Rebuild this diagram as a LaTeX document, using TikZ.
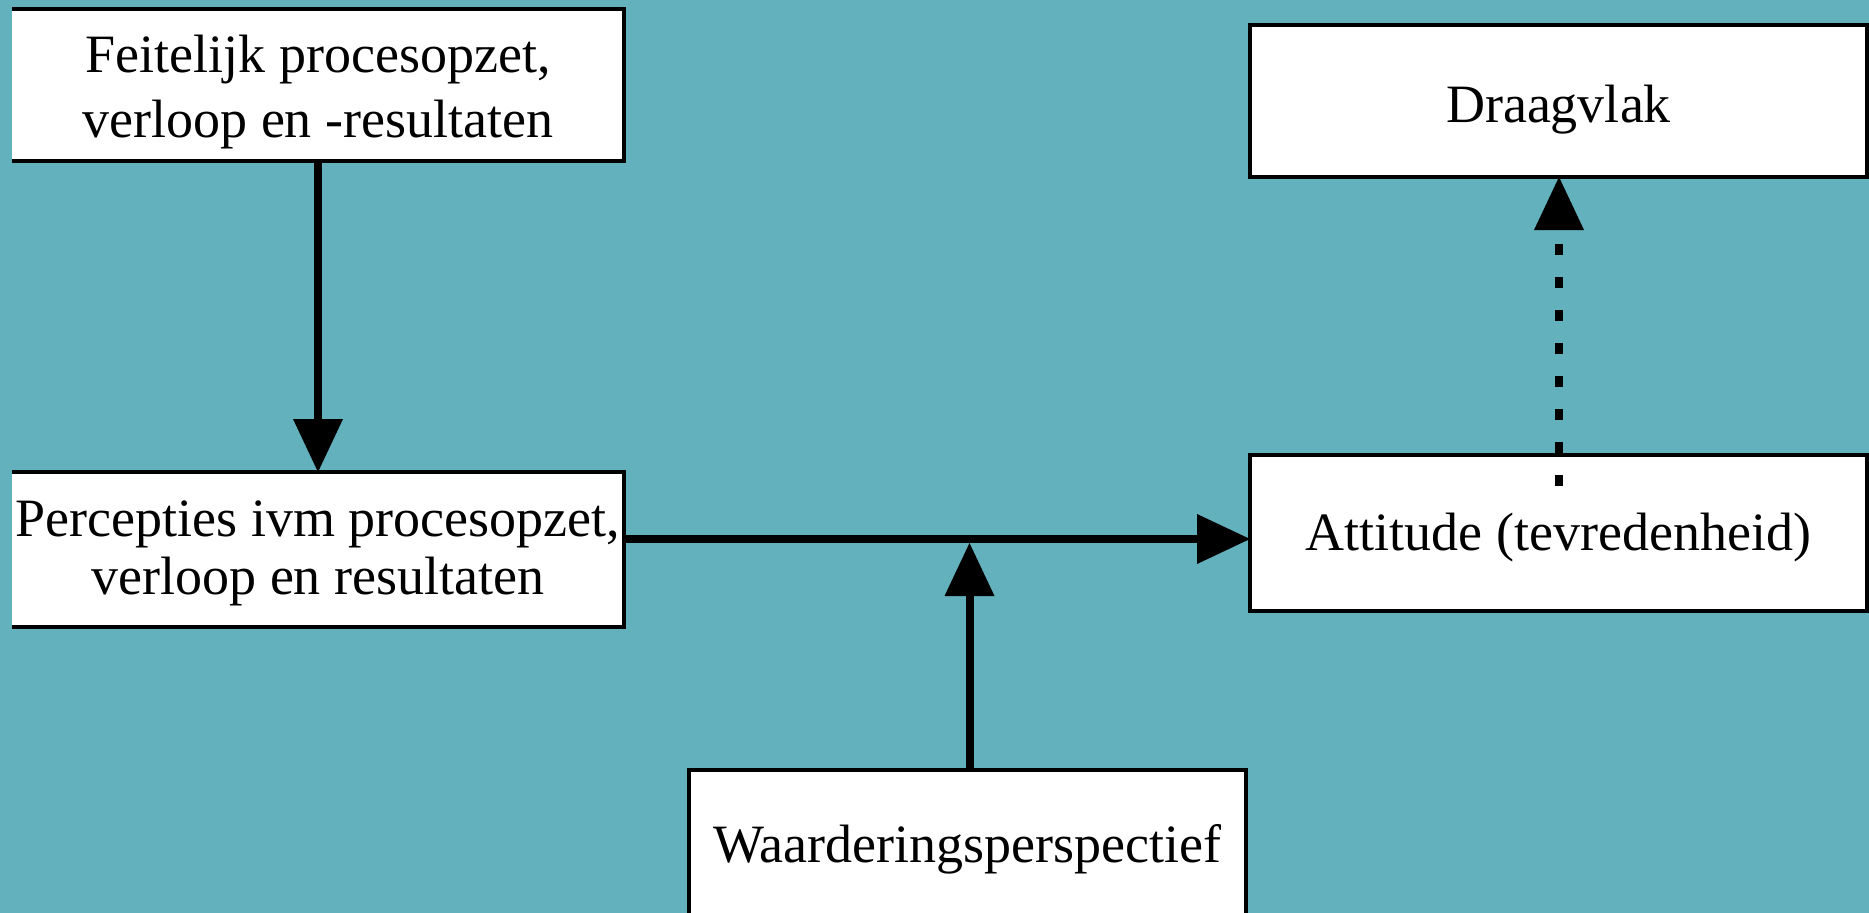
\documentclass[tikz,border=0pt]{standalone}
\usepackage{fontspec}
\setmainfont{Liberation Serif}
\usetikzlibrary{arrows.meta}
\definecolor{bgteal}{RGB}{99,177,189}
\begin{document}
\begin{tikzpicture}[x=1pt,y=-1pt,
  txtfont/.style={font=\fontsize{54}{65}\selectfont},
  box/.style={draw=black, line width=4pt, fill=white, inner sep=0pt, outer sep=0pt, align=center, txtfont, text depth=0pt},
  openbox/.style={fill=white, inner sep=0pt, outer sep=0pt},
  txt/.style={inner sep=0pt, align=center, txtfont},
  border/.style={draw=black, line width=4pt, line join=miter},
  conn/.style={line width=8pt, -{Triangle[length=53pt,width=50pt,line width=0pt]}},
  dotconn/.style={conn, dash pattern=on 11pt off 22pt}]
\useasboundingbox (0,0) rectangle (1869,913);
\clip (0,0) rectangle (1869,913);
\fill[bgteal] (0,0) rectangle (1869,913);

% boxes
\node[openbox, minimum width=612pt, minimum height=151.5pt] (f) at (318,84.75) {};
\draw[border] (f.north west) -- (f.north east) -- (f.south east) -- (f.south west);
\node[txt] (ft) at ([yshift=-7pt]f.center) {Feitelijk procesopzet,\\verloop en -resultaten};

\node[openbox, minimum width=612pt, minimum height=155pt] (p) at (318,549.5) {};
\draw[border] (p.north west) -- (p.north east) -- (p.south east) -- (p.south west);
\node[txt, font=\fontsize{54}{58}\selectfont] (pt) at ([yshift=-4pt]p.center) {Percepties ivm procesopzet,\\verloop en resultaten};

\node[box, text height=42pt, minimum width=617pt, minimum height=152pt] (d) at (1558.5,101) {Draagvlak};
\node[box, text height=34pt, minimum width=617pt, minimum height=155.5pt] (a) at (1558.5,533) {Attitude (tevredenheid)};
\node[box, text height=29pt, minimum width=557pt, minimum height=155pt] (w) at (967.5,847.5) {Waarderingsperspectief};

% connectors
\draw[conn] (f.south) -- (p.north);
\coordinate (j) at (969,539);
\draw[conn] (p.east |- j) -- (a.west |- j);
\coordinate (jb) at (969.5,543);
\draw[conn] (w.north -| jb) -- (jb);
\coordinate (ds) at (1559,486);
\draw[dotconn] (ds) -- (d.south -| ds);
\end{tikzpicture}
\end{document}
